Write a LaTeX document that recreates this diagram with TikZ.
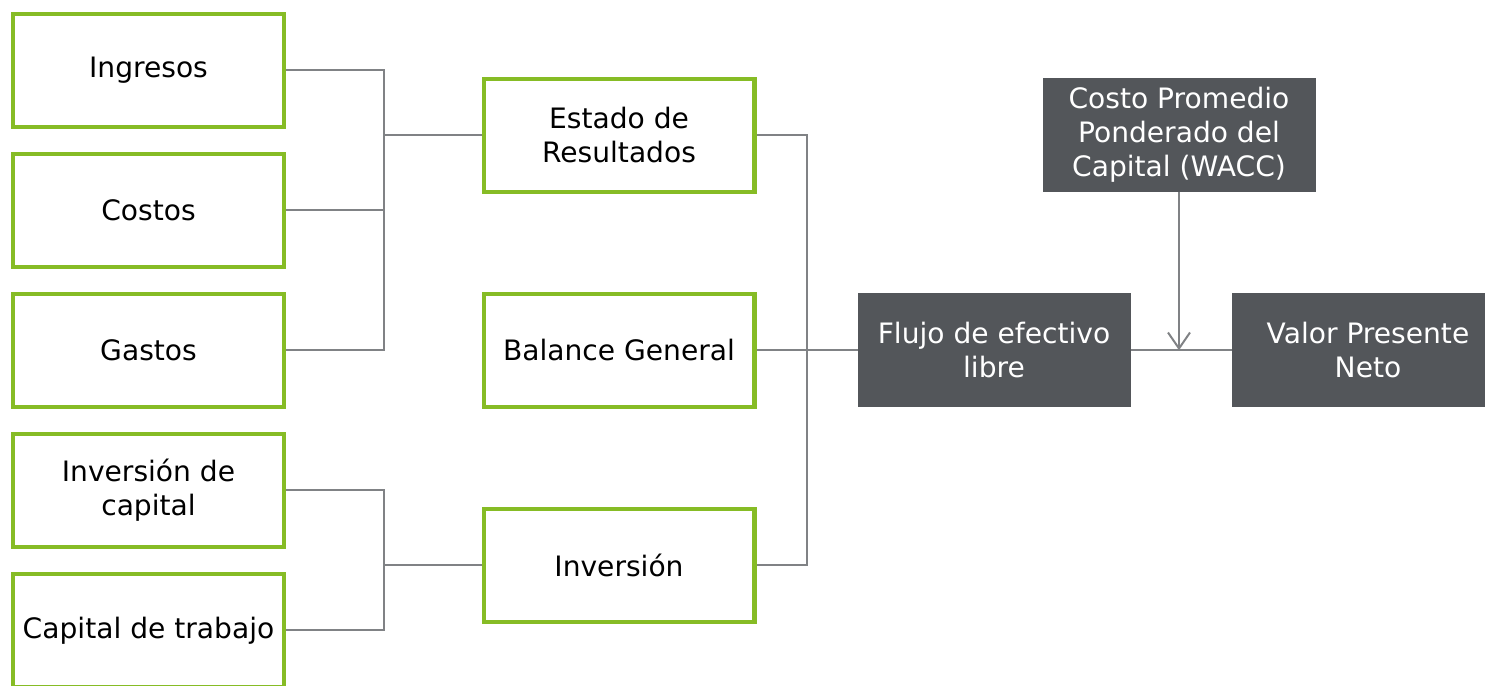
\documentclass[tikz,border=0pt]{standalone}
\usepackage{fontspec}
\setmainfont{DejaVu Sans}
\usepackage{tikz}
\usetikzlibrary{arrows.meta, positioning, calc}
\definecolor{dGreen}{HTML}{86BC25}
\definecolor{dGray}{HTML}{53565A}
\definecolor{lineGray}{HTML}{808285}

\tikzset{
  greenbox/.style={draw=dGreen, line width=0.085cm, fill=white, minimum width=5.415cm,
                   minimum height=2.265cm, align=center, inner sep=2pt},
  darkbox/.style={fill=dGray, text=white, minimum width=5.46cm, minimum height=2.28cm,
                  align=center, inner sep=2pt, outer sep=0pt},
  conn/.style={draw=lineGray, line width=0.04cm},
}

\begin{document}
\begin{tikzpicture}[font=\fontsize{16}{19.3}\selectfont, node distance=0.45cm]
    \useasboundingbox (0,0) rectangle (29.7,-13.7);

    % left column
    \node[greenbox] (ingresos) at (2.97,-1.405) {Ingresos};
    \node[greenbox, below=of ingresos] (costos) {Costos};
    \node[greenbox, below=of costos] (gastos) {Gastos};
    \node[greenbox, below=of gastos] (invcap) {Inversión de\\capital};
    \node[greenbox, below=of invcap] (captrab) {Capital de trabajo};

    % middle column
    \node[greenbox] (estado) at (12.38,-2.705) {Estado de\\Resultados};
    \node[greenbox, below=1.95cm of estado] (balance) {Balance General};
    \node[greenbox, below=1.95cm of balance] (inversion) {Inversión};

    % right part
    \node[darkbox, right=2.02cm of balance] (flujo) {Flujo de efectivo\\libre};
    \node[darkbox, right=2.02cm of flujo] (valor) {Valor Presente\\Neto};
    \node[darkbox] (wacc) at (23.58,-2.69) {Costo Promedio\\Ponderado del\\Capital (WACC)};

    \coordinate (busL) at ($(ingresos.east)!0.5!(estado.west)$);
    \coordinate (busB) at ($(invcap.east)!0.5!(inversion.west)$);
    \coordinate (busR) at ($(estado.east)!0.5!(flujo.west)$);

    \draw[conn] (ingresos.east) -| (busL |- gastos.east) -- (gastos.east);
    \draw[conn] (costos.east) -- (busL |- costos.east);
    \draw[conn] (busL |- estado.west) -- (estado.west);

    \draw[conn] (invcap.east) -| (busB |- captrab.east) -- (captrab.east);
    \draw[conn] (busB |- inversion.west) -- (inversion.west);

    \draw[conn] (estado.east) -| (busR |- inversion.east) -- (inversion.east);
    \draw[conn] (balance.east) -- (flujo.west);
    \draw[conn] (flujo.east) -- (valor.west);
    \draw[conn, -{Straight Barb[length=0.32cm, width=0.44cm]}] (wacc.south) -- (wacc.south |- flujo.east);
\end{tikzpicture}
\end{document}
